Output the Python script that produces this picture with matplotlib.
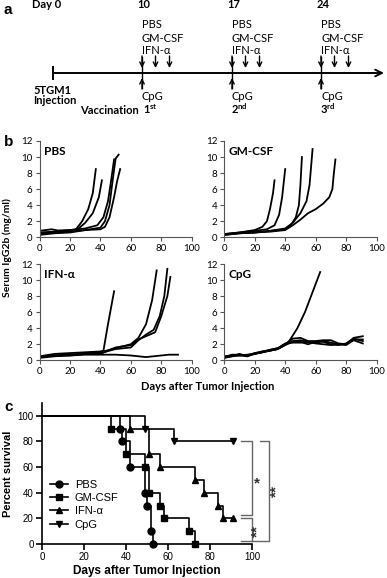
import matplotlib
matplotlib.use('Agg')
import matplotlib.pyplot as plt
from matplotlib.lines import Line2D

plt.rcParams['mathtext.fontset'] = 'custom'
plt.rcParams['mathtext.bf'] = 'Lato:bold'
plt.rcParams['mathtext.rm'] = 'Lato'

W, H = 387, 578
XLS = ['Lato', 'DejaVu Sans']          # stands in for Calibri
PRISM = ['Liberation Sans', 'DejaVu Sans']

# ---- panel b: serum IgG2b per mouse (days, mg/ml) ----
pbs_x = [[0, 4, 8, 12, 20, 24, 28, 32, 35, 37],
         [0, 10, 20, 25, 30, 35, 39, 41],
         [0, 10, 20, 30, 38, 42, 45, 47, 49],
         [0, 10, 20, 30, 40, 43, 46, 48, 50, 52],
         [0, 10, 20, 30, 40, 43, 46, 49, 51, 53]]
pbs_y = [[0.8, 0.9, 1.0, 0.85, 0.9, 1.0, 2.0, 3.5, 5.5, 8.5],
         [0.6, 0.7, 0.8, 1.0, 1.8, 3.0, 5.0, 7.1],
         [0.5, 0.7, 0.9, 1.1, 1.5, 2.5, 4.5, 7.0, 9.7],
         [0.4, 0.6, 0.7, 0.9, 1.2, 2.0, 4.0, 7.0, 9.8, 10.3],
         [0.3, 0.5, 0.6, 0.9, 1.0, 1.3, 2.5, 5.0, 7.0, 8.5]]

gm_x = [[0, 10, 20, 25, 28, 30, 32, 33],
        [0, 10, 20, 28, 33, 36, 38, 40],
        [0, 10, 20, 30, 40, 44, 47, 49, 50, 51],
        [0, 10, 20, 30, 40, 45, 50, 54, 56, 58],
        [0, 10, 20, 30, 40, 45, 50, 55, 60, 65, 69, 71, 72, 73]]
gm_y = [[0.4, 0.6, 0.9, 1.3, 2.0, 3.5, 5.5, 7.1],
        [0.4, 0.6, 0.8, 1.0, 1.5, 2.8, 5.0, 8.5],
        [0.3, 0.5, 0.6, 0.8, 1.0, 1.6, 2.5, 4.0, 6.5, 10.0],
        [0.35, 0.55, 0.6, 0.8, 1.1, 1.8, 3.0, 4.5, 6.5, 11.0],
        [0.3, 0.5, 0.6, 0.7, 0.9, 1.5, 2.2, 3.0, 3.5, 4.2, 5.0, 6.0, 8.0, 9.7]]

ifn_x = [[0, 10, 20, 30, 40, 42, 45, 49],
         [0, 10, 20, 30, 40, 50, 60, 65, 70, 74, 77],
         [0, 10, 20, 30, 40, 50, 60, 65, 70, 75, 79, 82, 84],
         [0, 10, 20, 30, 40, 50, 60, 65, 70, 76, 80, 84, 86],
         [0, 10, 20, 30, 40, 50, 60, 65, 70, 75, 80, 85, 91]]
ifn_y = [[0.5, 0.8, 0.9, 1.0, 1.1, 1.2, 4.5, 8.6],
         [0.4, 0.6, 0.7, 0.9, 1.0, 1.5, 2.0, 2.8, 4.5, 7.5, 11.2],
         [0.3, 0.5, 0.6, 0.8, 0.9, 1.4, 1.6, 2.5, 3.2, 3.8, 5.5, 8.0, 11.4],
         [0.4, 0.6, 0.7, 0.8, 0.8, 1.6, 1.9, 2.6, 3.0, 3.5, 5.5, 8.0, 10.4],
         [0.5, 0.6, 0.6, 0.7, 0.7, 0.7, 0.6, 0.5, 0.4, 0.5, 0.6, 0.7, 0.7]]

cpg_x = [[0, 10, 20, 30, 35, 40, 43, 48, 53, 58, 63],
         [0, 5, 10, 15, 20, 25, 30, 35, 40, 45, 50, 55, 60, 65, 70, 75, 80, 85, 91],
         [0, 5, 10, 15, 20, 25, 30, 35, 40, 45, 50, 55, 60, 65, 70, 75, 80, 85, 91],
         [0, 5, 10, 15, 20, 25, 30, 35, 40, 45, 50, 55, 60, 65, 70, 75, 80, 85, 91],
         [0, 5, 10, 15, 20, 25, 30, 35, 40, 45, 50, 55, 60, 65, 70, 75, 80, 85, 91]]
cpg_y = [[0.4, 0.6, 0.8, 1.2, 1.4, 1.9, 2.5, 4.0, 6.0, 8.5, 11.0],
         [0.3, 0.6, 0.6, 0.5, 0.9, 1.1, 1.3, 1.5, 2.0, 2.7, 2.8, 2.4, 2.4, 2.5, 2.5, 2.1, 2.0, 2.8, 3.0],
         [0.4, 0.7, 0.7, 0.6, 0.8, 1.1, 1.2, 1.4, 2.0, 2.4, 2.5, 2.3, 2.2, 2.4, 2.2, 2.0, 2.0, 2.6, 2.6],
         [0.3, 0.5, 0.8, 0.5, 0.8, 1.0, 1.2, 1.4, 1.9, 2.3, 2.3, 2.0, 2.3, 2.3, 2.0, 1.9, 2.1, 2.7, 2.4],
         [0.5, 0.6, 0.7, 0.6, 0.9, 1.0, 1.3, 1.5, 2.1, 2.2, 2.2, 2.3, 2.1, 2.0, 1.9, 2.0, 1.9, 2.5, 2.1]]

# ---- panel c: Kaplan-Meier survival ----
surv_names = ['PBS', 'GM-CSF', 'IFN-\u03b1', 'CpG']
surv_markers = ['o', 's', '^', 'v']
pbs_t = [0, 37, 38, 42, 49, 50, 52, 53]
pbs_s = [100, 90, 80, 60, 40, 30, 10, 0]
gm_t = [0, 33, 40, 49, 51, 56, 58, 70, 73]
gm_s = [100, 90, 70, 60, 40, 30, 20, 10, 0]
ifn_t = [0, 42, 51, 56, 73, 77, 84, 86, 91]
ifn_s = [100, 90, 70, 60, 50, 40, 30, 20, 20]
cpg_t = [0, 49, 63, 91]
cpg_s = [100, 90, 80, 80]

vacc_days = ['10', '17', '24']
vacc_x = [142, 232, 321]   # pixel x of each vaccination mark
vacc_ord = ['1$^{\\bf st}$', '2$^{\\bf nd}$', '3$^{\\bf rd}$']


def rect(x0, ytop, x1, ybot):
    return [x0 / W, 1 - ybot / H, (x1 - x0) / W, (ybot - ytop) / H]


fig = plt.figure(figsize=(W / 100, H / 100), dpi=100)

# overlay in pixel coordinates for panel a and labels
ov = fig.add_axes([0, 0, 1, 1])
ov.set_xlim(0, W)
ov.set_ylim(H, 0)
ov.axis('off')

for lab, y in [('a', 10), ('b', 142), ('c', 407)]:
    ov.text(4, y, lab, fontsize=11, fontweight='bold', family=PRISM, va='center', ha='left')

# timeline
fs_a = 8
ov.annotate('', xy=(384, 73), xytext=(53, 73),
            arrowprops=dict(arrowstyle='->', lw=1.4, color='black', shrinkA=0, shrinkB=0, mutation_scale=12))
ov.plot([53, 53], [67, 79], color='black', lw=1.4)
ov.text(32, 5, 'Day 0', fontsize=fs_a, fontweight='bold', family=XLS, va='center', ha='left')
ov.text(33, 90, '5TGM1', fontsize=fs_a, fontweight='bold', family=XLS, va='center', ha='left')
ov.text(33, 101, 'Injection', fontsize=fs_a, fontweight='bold', family=XLS, va='center', ha='left')
ov.text(139, 110, 'Vaccination', fontsize=fs_a, fontweight='bold', family=XLS, va='center', ha='right')

for d, x, o in zip(vacc_days, vacc_x, vacc_ord):
    ov.text(x + 2, 5, d, fontsize=fs_a, fontweight='bold', family=XLS, va='center', ha='center')
    ov.text(x, 25, 'PBS', fontsize=fs_a, family=XLS, va='center', ha='left')
    ov.text(x, 38, 'GM-CSF', fontsize=fs_a, family=XLS, va='center', ha='left')
    ov.text(x, 51, 'IFN-\u03b1', fontsize=fs_a, family=XLS, va='center', ha='left')
    ov.text(x, 96, 'CpG', fontsize=fs_a, family=XLS, va='center', ha='left')
    ov.text(x + 1 if d == '10' else x - 1, 109, o, fontsize=fs_a, fontweight='bold', family=XLS,
            va='center', ha='left')
    ov.plot([x, x], [57, 88], color='black', lw=1.0)
    for dx in [0, 13.5, 27.5]:
        ov.annotate('', xy=(x + dx, 68), xytext=(x + dx, 56),
                    arrowprops=dict(arrowstyle='->', lw=1.0, color='black', shrinkA=0, shrinkB=0, mutation_scale=8))
    ov.annotate('', xy=(x, 78), xytext=(x, 89),
                arrowprops=dict(arrowstyle='->', lw=1.0, color='black', shrinkA=0, shrinkB=0, mutation_scale=8))

# ---- panel b ----
def igg_panel(r, xs, ys, title):
    ax = fig.add_axes(r)
    for x, y in zip(xs, ys):
        ax.plot(x, y, color='black', lw=1.3, solid_joinstyle='round')
    ax.set_xlim(0, 100)
    ax.set_ylim(0, 12)
    ax.set_xticks(range(0, 101, 20))
    ax.set_yticks(range(0, 13, 2))
    ax.spines[['top', 'right']].set_visible(False)
    for s in ['left', 'bottom']:
        ax.spines[s].set_color('#555555')
        ax.spines[s].set_linewidth(0.8)
    ax.tick_params(labelsize=7, length=3, width=0.8, pad=2, color='#555555')
    for t in ax.get_xticklabels() + ax.get_yticklabels():
        t.set_family(XLS)
    ax.text(0.03, 0.89, title, transform=ax.transAxes, fontsize=8.5, fontweight='bold',
            family=XLS, va='center', ha='left')
    return ax


igg_panel(rect(39.5, 141, 191.7, 237.3), pbs_x, pbs_y, 'PBS')
igg_panel(rect(224.3, 141, 376.5, 237.3), gm_x, gm_y, 'GM-CSF')
igg_panel(rect(39.5, 264, 191.7, 360.3), ifn_x, ifn_y, 'IFN-\u03b1')
igg_panel(rect(224.3, 264, 376.5, 360.3), cpg_x, cpg_y, 'CpG')
ov.text(208, 386, 'Days after Tumor Injection', fontsize=8, fontweight='bold', family=XLS,
        va='center', ha='center')
ov.text(7, 248, 'Serum IgG2b (mg/ml)', fontsize=7.5, fontweight='bold', family=XLS,
        va='center', ha='center', rotation=90)

# ---- panel c ----
axc = fig.add_axes(rect(42, 403, 252, 544))
handles = []
for t, s, m, name in zip([pbs_t, gm_t, ifn_t, cpg_t], [pbs_s, gm_s, ifn_s, cpg_s],
                         surv_markers, surv_names):
    axc.step(t, s, where='post', color='black', lw=1.2, clip_on=False)
    axc.plot(t[1:], s[1:], ls='none', marker=m, ms=5, color='black', clip_on=False)
    handles.append(Line2D([], [], color='black', lw=1.2, marker=m, ms=5, label=name))
axc.set_xlim(0, 100)
axc.set_ylim(0, 110)
axc.set_xticks(range(0, 101, 20))
axc.set_yticks(range(0, 101, 20))
axc.spines[['top', 'right']].set_visible(False)
for s in ['left', 'bottom']:
    axc.spines[s].set_linewidth(1.2)
axc.tick_params(labelsize=7, length=4, width=1.2, pad=2)
for t in axc.get_xticklabels() + axc.get_yticklabels():
    t.set_family(PRISM)
axc.set_xlabel('Days after Tumor Injection', fontsize=8.5, fontweight='bold', family=PRISM, labelpad=2)
axc.set_ylabel('Percent survival', fontsize=8, fontweight='bold', family=PRISM, labelpad=3)
leg = axc.legend(handles=handles, loc='center left', bbox_to_anchor=(0.04, 0.28), frameon=False,
                 borderaxespad=0, borderpad=0, handlelength=1.6, handletextpad=0.6,
                 labelspacing=0.3, prop={'family': PRISM, 'size': 8})

# significance brackets
gray = '#666666'
axc.plot([95, 100, 100, 95], [80, 80, 22.5, 22.5], color=gray, lw=1.0, clip_on=False)
axc.plot([95, 100, 100, 95], [20, 20, 2, 2], color=gray, lw=1.0, clip_on=False)
axc.plot([104, 108.2, 108.2, 100], [80, 80, 2, 2], color=gray, lw=1.0, clip_on=False)
axc.text(102.4, 47, '*', fontsize=11, fontweight='bold', color='#333333', family=PRISM, ha='center', va='center')
axc.text(111.5, 41, '**', fontsize=11, fontweight='bold', color='#333333', family=PRISM,
         ha='center', va='center', rotation=90)
axc.text(102.8, 10.5, '**', fontsize=11, fontweight='bold', color='#333333', family=PRISM,
         ha='center', va='center', rotation=90)

fig.savefig('out.png', dpi=100, facecolor='white')
